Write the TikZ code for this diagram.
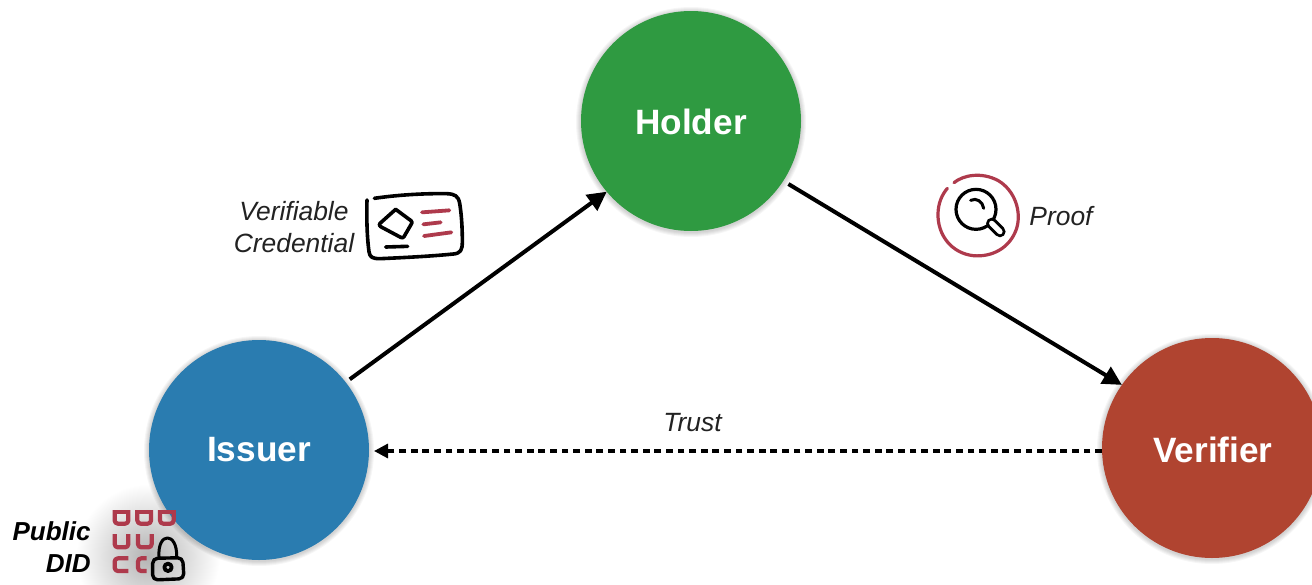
\documentclass[tikz,border=0pt]{standalone}
\usepackage{fontspec}
\setmainfont{Liberation Sans}
\usetikzlibrary{arrows.meta}
\definecolor{holdergreen}{HTML}{2F9A41}
\definecolor{issuerblue}{HTML}{2A7CB0}
\definecolor{verifierred}{HTML}{B04430}
\definecolor{iconred}{HTML}{AE3A4C}
\definecolor{labelgrey}{HTML}{222222}
\tikzset{
  actor/.style={circle,minimum size=110pt,inner sep=0pt,outer sep=0pt},
  actortext/.style={text=white,inner sep=0pt,font=\fontsize{17.6}{20}\bfseries\selectfont},
  flow/.style={draw=black,line width=2pt,-{Triangle[length=9.5pt,width=9.5pt]}},
  trustflow/.style={draw=black,line width=1.6pt,dash pattern=on 3.4pt off 2.4pt,-{Triangle[length=7pt,width=7pt]}},
  lab/.style={text=labelgrey,inner sep=0pt,font=\fontsize{13.2}{16}\itshape\selectfont,align=center},
  boldlab/.style={text=black,inner sep=0pt,font=\fontsize{13}{16}\bfseries\itshape\selectfont,align=right},
  sketch/.style={draw=black,line width=1.8pt,line cap=round,line join=round},
  redsketch/.style={draw=iconred,line width=1.9pt,line cap=round,line join=round},
  tile/.style={draw=iconred,line width=2.1pt,line cap=butt,line join=round,rounded corners=1.6pt},
}
\begin{document}
\begin{tikzpicture}[x=0.5pt,y=-0.5pt]
\useasboundingbox (0,0) rectangle (1312,584);
\fill[white] (0,0) rectangle (1312,584);
% soft glow behind the Public DID icon
\shade[inner color=black!30,outer color=white] (148,556) circle[radius=72];
% circle shadows
\foreach \c/\d in {691/121,259/450,1212/448}{
  \foreach \r in {111,112,113,114,115}{
    \fill[black,opacity=0.035] (\c,\d+1) circle[radius=\r];
  }
}
\node[actor,fill=holdergreen] (holder) at (691,121) {};
\node[actor,fill=issuerblue] (issuer) at (259,450) {};
\node[actor,fill=verifierred] (verifier) at (1212,448) {};
\node[actortext] (holdertext) at (691,122) {Holder};
\node[actortext] (issuertext) at (259,450) {Issuer};
\node[actortext] (verifiertext) at (1213,450) {Verifier};
% connectors
\coordinate (trustlevel) at (0,451);
\draw[flow,shorten <=2.5pt] (issuer.38) -- (holder.220);
\draw[flow,shorten <=3pt] (holder.327) -- (verifier.145);
\draw[trustflow,shorten >=2.5pt] (verifier.west |- trustlevel) -- (issuer.east |- trustlevel);
% labels
\node[lab] (vc) at (294,227) {Verifiable\\Credential};
\node[lab] (proof) at (1061,216) {Proof};
\node[lab] (trust) at (692.5,423) {Trust};
\node[boldlab,anchor=east] (did) at (91,547) {Public\\DID};
% credential card icon
\begin{scope}[shift={(220,170)},x=0.16667pt,y=-0.16667pt]
  \draw[sketch] (441,90) .. controls (439,150) and (442,210) .. (447,245)
        .. controls (449,262) and (458,266) .. (480,266)
        .. controls (570,262) and (640,258) .. (700,252)
        .. controls (722,250) and (727,240) .. (727,215)
        .. controls (727,170) and (724,130) .. (719,100)
        .. controls (715,78) and (705,72) .. (680,71)
        .. controls (610,70) and (530,75) .. (463,85);
  \draw[sketch] (527,118) -- (573,152) .. controls (577,156) and (577,159) .. (574,162)
        -- (552,200) .. controls (549,204) and (546,204) .. (542,202)
        -- (482,170) .. controls (477,167) and (477,163) .. (480,160) -- cycle;
  \draw[sketch] (497,231) -- (563,229);
  \draw[redsketch] (606,127) -- (688,121);
  \draw[redsketch] (610,163) -- (662,157);
  \draw[redsketch] (612,198) -- (694,187);
\end{scope}
% proof icon
\begin{scope}[shift={(920,160)},x=0.16667pt,y=-0.16667pt]
  \draw[redsketch,line width=1.6pt] (102,68) .. controls (130,45) and (185,35) .. (235,62)
        .. controls (285,92) and (305,155) .. (290,205)
        .. controls (270,265) and (215,292) .. (160,287)
        .. controls (95,280) and (52,225) .. (54,160)
        .. controls (55,130) and (65,105) .. (82,85);
  \draw[sketch,line width=1.6pt] (168,148) circle[radius=60];
  \draw[sketch,line width=1.5pt] (152,121) .. controls (170,112) and (188,125) .. (191,145);
  \draw[black,line width=5.6pt,line cap=round] (215,190) -- (240,215);
  \draw[white,line width=2.6pt,line cap=round] (215,190) -- (240,215);
\end{scope}
% public DID icon
\begin{scope}[shift={(0,490)},x=0.16667pt,y=-0.16667pt]
  \begin{scope}
    \clip (320,62) rectangle (540,280);
    \draw[tile] (344,50) -- (344,101) -- (385,101) -- (385,50);
    \draw[tile] (344,66) -- (385,66);
    \draw[tile] (412,50) -- (412,101) -- (453,101) -- (453,50);
    \draw[tile] (412,66) -- (453,66);
    \draw[tile] (480,50) -- (480,101) -- (521,101) -- (521,50);
    \draw[tile] (480,66) -- (521,66);
    \draw[tile] (344,132) -- (344,172) -- (385,172) -- (385,132);
    \draw[tile] (414,132) -- (414,172) -- (455,172) -- (455,132);
    \draw[tile] (385,205) -- (344,205) -- (344,243) -- (385,243);
    \draw[tile] (440,205) -- (414,205) -- (414,243) -- (440,243);
  \end{scope}
  \draw[sketch,line width=1.5pt] (477,200) .. controls (472,125) and (532,125) .. (530,200);
  \draw[sketch,line width=1.7pt,rounded corners=2.5pt] (458,205) -- (548,203) -- (552,266) -- (458,270) -- cycle;
  \draw[sketch,line width=1.9pt] (504,232) circle[radius=11];
\end{scope}
\end{tikzpicture}
\end{document}
